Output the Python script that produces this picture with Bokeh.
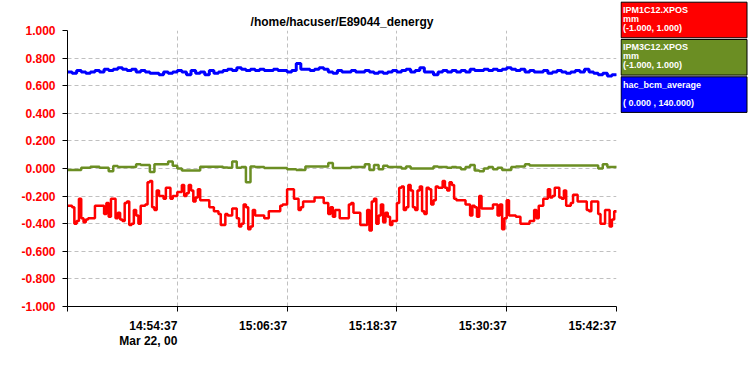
import pandas as pd
from bokeh.plotting import figure
from bokeh.models import Range1d, FixedTicker, NumeralTickFormatter, ColumnDataSource
from bokeh.layouts import row, column
from bokeh.core.properties import value
from bokeh.embed import file_html
from bokeh.resources import INLINE

title_text = "/home/hacuser/E89044_denergy"
start_time = "2000-03-22 14:42:37"
end_time = "2000-03-22 15:42:37"
x_tick_times = ["2000-03-22 14:42:37", "2000-03-22 14:54:37", "2000-03-22 15:06:37",
                "2000-03-22 15:18:37", "2000-03-22 15:30:37", "2000-03-22 15:42:37"]
x_tick_labels = ["", "14:54:37", "15:06:37", "15:18:37", "15:30:37", "15:42:37"]
date_label = "Mar 22, 00"
y_ticks = [-1.0, -0.8, -0.6, -0.4, -0.2, 0.0, 0.2, 0.4, 0.6, 0.8, 1.0]

# IPM1C12.XPOS (mm), one reading every 15 s
ipm1c12_xpos = [
    -0.27, -0.27, -0.28, -0.40, -0.38, -0.22, -0.36, -0.39, -0.37, -0.36,
    -0.36, -0.36, -0.27, -0.27, -0.27, -0.27, -0.33, -0.25, -0.35, -0.22,
    -0.22, -0.36, -0.32, -0.37, -0.38, -0.25, -0.24, -0.41, -0.40, -0.30,
    -0.34, -0.40, -0.27, -0.27, -0.26, -0.10, -0.09, -0.28, -0.30, -0.16,
    -0.20, -0.20, -0.22, -0.14, -0.14, -0.22, -0.20, -0.20, -0.17, -0.17,
    -0.12, -0.20, -0.18, -0.12, -0.16, -0.24, -0.21, -0.15, -0.23, -0.23,
    -0.23, -0.23, -0.28, -0.28, -0.31, -0.31, -0.33, -0.41, -0.41, -0.33,
    -0.34, -0.34, -0.29, -0.29, -0.36, -0.42, -0.40, -0.26, -0.28, -0.44,
    -0.42, -0.30, -0.34, -0.34, -0.34, -0.34, -0.36, -0.36, -0.31, -0.31,
    -0.31, -0.31, -0.31, -0.27, -0.26, -0.26, -0.15, -0.15, -0.15, -0.22,
    -0.22, -0.30, -0.28, -0.24, -0.24, -0.24, -0.24, -0.24, -0.21, -0.21,
    -0.21, -0.21, -0.25, -0.25, -0.33, -0.28, -0.35, -0.30, -0.30, -0.36,
    -0.36, -0.36, -0.36, -0.26, -0.25, -0.32, -0.32, -0.32, -0.41, -0.41,
    -0.41, -0.30, -0.45, -0.24, -0.22, -0.40, -0.34, -0.26, -0.39, -0.32,
    -0.35, -0.41, -0.38, -0.38, -0.25, -0.14, -0.13, -0.30, -0.28, -0.12,
    -0.16, -0.28, -0.30, -0.16, -0.13, -0.31, -0.33, -0.14, -0.15, -0.26,
    -0.23, -0.13, -0.14, -0.14, -0.09, -0.14, -0.16, -0.10, -0.12, -0.22,
    -0.23, -0.23, -0.23, -0.23, -0.26, -0.26, -0.34, -0.27, -0.28, -0.35,
    -0.20, -0.29, -0.29, -0.29, -0.29, -0.29, -0.26, -0.26, -0.34, -0.26,
    -0.44, -0.36, -0.23, -0.34, -0.34, -0.34, -0.35, -0.35, -0.40, -0.40,
    -0.40, -0.40, -0.38, -0.38, -0.30, -0.36, -0.27, -0.27, -0.22, -0.22,
    -0.15, -0.21, -0.20, -0.14, -0.14, -0.21, -0.22, -0.16, -0.27, -0.27,
    -0.25, -0.19, -0.19, -0.24, -0.24, -0.24, -0.24, -0.30, -0.31, -0.24,
    -0.24, -0.24, -0.33, -0.40, -0.40, -0.30, -0.30, -0.42, -0.37, -0.31,
    -0.32,
]

# IPM3C12.XPOS (mm), one reading every 30 s
ipm3c12_xpos = [
    -0.01, -0.01, -0.01, 0.005, 0.005, 0.012, 0.012, 0.005, 0.005, -0.02, 0.018,
    0.01, 0.01, 0.01, 0.01, 0.03, 0.025, 0.025, -0.025, 0.03, 0.03,
    0.03, 0.05, 0.02, 0.0, -0.015, -0.015, -0.015, -0.015, 0.012, 0.012,
    0.012, 0.012, 0.012, 0.008, 0.005, 0.05, 0.005, 0.01, -0.10, 0.015,
    0.01, 0.01, 0.003, 0.003, 0.003, 0.003, 0.003, -0.005, -0.005, -0.01,
    -0.01, 0.015, 0.015, 0.015, 0.015, 0.015, 0.04, 0.003, 0.003, 0.003,
    0.003, 0.01, 0.01, 0.01, 0.03, -0.01, 0.025, -0.005, 0.02, 0.01,
    0.01, 0.01, 0.0, 0.015, 0.0, 0.0, 0.0, 0.0, 0.0, 0.015,
    0.01, 0.01, 0.005, 0.01, 0.008, -0.005, 0.01, 0.025, -0.015, -0.02,
    0.0, 0.01, -0.005, 0.005, -0.01, -0.01, 0.01, 0.015, 0.015, 0.03,
    0.022, 0.022, 0.022, 0.022, 0.022, 0.022, 0.022, 0.022, 0.022, 0.022,
    0.022, 0.022, 0.022, 0.022, 0.022, 0.0, 0.03, 0.01, 0.01, 0.02,
]

# hac_bcm_average (shown on a 0..140 scale), one reading every 30 s
hac_bcm_average = [
    119.0, 118.3, 119.7, 119.0, 118.3, 119.0, 119.7, 119.0, 120.4, 119.7, 120.4,
    121.1, 120.4, 119.7, 120.4, 119.0, 119.7, 119.0, 118.3, 118.3, 117.6,
    119.0, 118.3, 119.0, 119.7, 119.0, 117.6, 119.7, 118.3, 119.0, 117.6,
    119.7, 118.3, 119.0, 119.7, 120.4, 119.7, 121.1, 120.4, 119.7, 120.4,
    119.7, 120.4, 119.7, 119.7, 120.4, 119.7, 119.7, 119.0, 119.7, 123.2,
    120.4, 120.4, 119.7, 120.4, 121.1, 120.4, 119.0, 118.3, 119.7, 119.0,
    119.0, 119.7, 119.0, 119.0, 119.7, 119.0, 118.3, 119.0, 118.3, 119.0,
    119.7, 119.0, 119.7, 120.4, 119.0, 119.7, 121.1, 119.0, 119.0, 117.6,
    119.0, 119.7, 119.0, 119.7, 119.0, 119.7, 119.0, 120.4, 119.7, 119.7,
    120.4, 119.7, 120.4, 119.7, 120.4, 121.1, 120.4, 119.7, 120.4, 119.0,
    119.7, 119.0, 119.0, 119.7, 118.3, 119.0, 119.7, 119.0, 118.3, 119.0,
    119.7, 119.0, 120.4, 119.0, 118.3, 117.6, 118.3, 116.9, 117.6, 116.9,
]
bcm_range = (0.0, 140.0)

legend_names = ["IPM1C12.XPOS", "IPM3C12.XPOS", "hac_bcm_average"]
legend_units = ["mm", "mm", ""]
legend_ranges = ["(-1.000, 1.000)", "(-1.000, 1.000)", "( 0.000 , 140.000)"]
legend_colors = ["#ff0000", "#6b8e23", "#0000ff"]


def ms(t):
    return pd.Timestamp(t).value / 1e6


src_red = ColumnDataSource(dict(
    t=pd.date_range(start_time, periods=len(ipm1c12_xpos), freq="15s"), y=ipm1c12_xpos))
src_30 = ColumnDataSource(dict(
    t=pd.date_range(start_time, periods=len(ipm3c12_xpos), freq="30s"),
    ipm3=ipm3c12_xpos, bcm=hac_bcm_average))

FONT = "Liberation Sans"
GRID = "#c0c0c0"
W = 620
H_MAIN = 316
H_STRIP = 375 - H_MAIN
LABEL_TOP = 318 - H_MAIN   # first label line sits 12 px under the frame

p = figure(width=W, height=H_MAIN, x_axis_type="datetime",
           x_range=Range1d(ms(start_time), ms(end_time)), y_range=Range1d(-1.0, 1.0),
           output_backend="svg", toolbar_location=None,
           min_border_left=67, min_border_right=4, min_border_top=30,
           min_border_bottom=H_MAIN - 306)
p.extra_y_ranges = {"bcm": Range1d(*bcm_range)}
p.outline_line_color = None
p.background_fill_color = "white"
p.border_fill_color = "white"

p.title.text = title_text
p.title.align = "center"
p.title.text_font = FONT
p.title.text_font_size = "12px"
p.title.text_font_style = "bold"
p.title.text_color = "black"
p.title.standoff = 3

xt = FixedTicker(ticks=[ms(t) for t in x_tick_times], minor_ticks=[])
p.xaxis.ticker = xt
p.xgrid.ticker = xt
p.xaxis.major_label_overrides = {ms(t): "" for t in x_tick_times}
p.xaxis.major_label_text_font_size = "0px"
p.xaxis.major_label_standoff = 0
p.xaxis.major_tick_out = 5
p.xaxis.major_tick_in = 0
p.xaxis.minor_tick_out = 0
p.xaxis.minor_tick_in = 0
p.xaxis.axis_line_color = "black"
p.xaxis.major_tick_line_color = "black"

yt = FixedTicker(ticks=y_ticks, minor_ticks=[])
p.yaxis.ticker = yt
p.ygrid.ticker = yt
p.yaxis.formatter = NumeralTickFormatter(format="0.000")
p.yaxis.major_label_text_color = "#ff0000"
p.yaxis.major_label_text_font = FONT
p.yaxis.major_label_text_font_size = "12px"
p.yaxis.major_label_text_font_style = "bold"
p.yaxis.major_tick_out = 5
p.yaxis.major_tick_in = 0
p.yaxis.minor_tick_out = 0
p.yaxis.minor_tick_in = 0
p.yaxis.major_label_standoff = 7
p.yaxis.axis_line_color = "black"

for g in (p.xgrid, p.ygrid):
    g.grid_line_color = GRID
    g.grid_line_dash = "4 3"
    g.grid_line_width = 1

p.step(x="t", y="bcm", source=src_30, mode="after", line_color=legend_colors[2],
       line_width=3, y_range_name="bcm")
p.step(x="t", y="ipm3", source=src_30, mode="after", line_color=legend_colors[1], line_width=2.5)
p.step(x="t", y="y", source=src_red, mode="after", line_color=legend_colors[0], line_width=2.5)

# strip under the plot carrying the time-axis labels (shares the x scale)
strip = figure(width=W, height=H_STRIP, x_range=p.x_range, y_range=Range1d(H_STRIP, 0),
               output_backend="svg", toolbar_location=None,
               min_border=0, min_border_left=67, min_border_right=4,
               min_border_top=0, min_border_bottom=0)
strip.axis.visible = False
strip.grid.visible = False
strip.outline_line_color = None
lab_x = [ms(t) for t, lab in zip(x_tick_times, x_tick_labels) if lab]
lab_t = [lab for lab in x_tick_labels if lab]
strip.text(x=lab_x, y=LABEL_TOP, text=lab_t, text_align="right", text_baseline="top",
           text_font=value(FONT), text_font_size="12px", text_font_style="bold",
           text_color="black")
strip.text(x=[lab_x[0]], y=LABEL_TOP + 15, text=[date_label], text_align="right",
           text_baseline="top", text_font=value(FONT), text_font_size="12px",
           text_font_style="bold", text_color="black")

# legend panel
LW = 748 - W
lg = figure(width=LW, height=H_MAIN, x_range=Range1d(0, LW), y_range=Range1d(H_MAIN, 0),
            output_backend="svg", toolbar_location=None,
            min_border=0, min_border_left=0, min_border_right=0, min_border_top=0, min_border_bottom=0)
lg.axis.visible = False
lg.grid.visible = False
lg.outline_line_color = None
box_h = 35.6
box_gap = 1.7
tops = [box_gap + i * (box_h + box_gap) for i in range(len(legend_names))]
lg.quad(left=0.5, right=126.5, top=tops, bottom=[t + box_h for t in tops],
        fill_color=legend_colors, line_color="black", line_width=1)
tx, ty, tt = [], [], []
for i, top in enumerate(tops):
    for j, s in enumerate([legend_names[i], legend_units[i], legend_ranges[i]]):
        tx.append(2.5)
        ty.append(top + 7.8 + 9 * j)
        tt.append(s)
lg.text(x=tx, y=ty, text=tt, text_color="white", text_font=value(FONT),
        text_font_size="9px", text_font_style="bold", text_baseline="alphabetic")

for fig in (p, lg, strip):
    try:
        fig.frame_align = False
    except Exception:
        pass

layout = column(row(p, lg), strip)
open("out.html", "w").write(file_html(layout, INLINE))
